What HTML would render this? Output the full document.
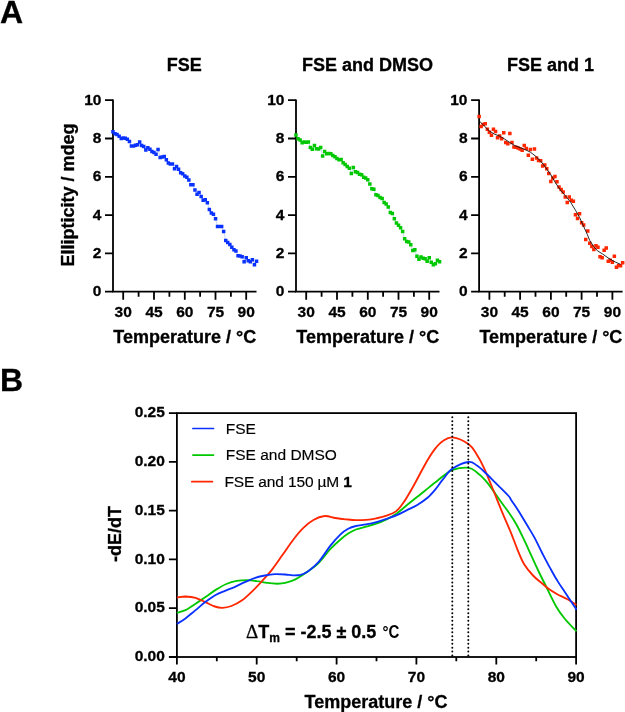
<!DOCTYPE html>
<html><head><meta charset="utf-8"><title>Figure</title>
<style>
html,body{margin:0;padding:0;background:#fff;}
body{width:625px;height:712px;overflow:hidden;}
svg{display:block;will-change:transform;}
text{font-family:"Liberation Sans",sans-serif;fill:#000;}
.b{font-weight:bold;stroke:#000;stroke-width:0.3px;}
.ax{stroke:#000;stroke-width:1.8;fill:none;stroke-linecap:butt;}
.tl{font-size:15.5px;font-weight:bold;stroke:#000;stroke-width:0.3px;}
.lab{font-size:18px;font-weight:bold;stroke:#000;stroke-width:0.3px;}
</style></head><body>
<svg width="625" height="712" viewBox="0 0 625 712">
<rect width="625" height="712" fill="#fff"/>
<text x="0" y="23" class="b" style="font-size:32px">A</text>
<text x="0" y="390.8" class="b" style="font-size:32px">B</text>

<g>
<text x="184.3" y="71.4" text-anchor="middle" class="lab">FSE</text>
<path d="M113.0,131.7 L115.0,133.7 L117.1,134.6 L119.2,136.3 L121.2,138.4 L123.2,138.1 L125.3,138.3 L127.3,139.3 L129.4,141.6 L131.4,146.1 L133.5,146.1 L135.6,145.2 L137.6,144.8 L139.7,141.9 L141.7,145.5 L143.8,146.5 L145.8,150.0 L147.8,147.8 L149.9,149.3 L151.9,151.6 L154.0,152.5 L156.1,154.2 L158.1,149.6 L160.2,157.6 L162.2,157.0 L164.2,156.4 L166.3,159.8 L168.3,163.1 L170.4,164.0 L172.4,164.0 L174.5,168.8 L176.6,166.6 L178.6,169.2 L180.6,172.7 L182.7,173.7 L184.8,175.9 L186.8,177.2 L188.8,180.1 L190.9,184.8 L192.9,184.8 L195.0,190.0 L197.1,194.2 L199.1,192.5 L201.1,196.4 L203.2,200.2 L205.2,199.8 L207.3,202.8 L209.3,209.5 L211.4,213.0 L213.4,214.3 L215.5,218.8 L217.6,226.5 L219.6,226.5 L221.6,226.5 L223.7,231.6 L225.8,240.6 L227.8,242.5 L229.8,244.4 L231.9,247.3 L233.9,249.8 L236.0,251.1 L238.0,255.7 L240.1,256.0 L242.1,256.6 L244.2,261.7 L246.2,257.9 L248.3,260.8 L250.3,261.7 L252.4,259.8 L254.4,264.9 L256.5,261.1" stroke="#6a8fd8" stroke-width="0.5" fill="none" opacity="0.7"/>
<path class="ax" d="M113.0,99.4 V292.5 M112.1,291.7 H256.5"/>
<text x="101.4" y="296.1" text-anchor="end" class="tl">0</text>
<text x="101.4" y="257.8" text-anchor="end" class="tl">2</text>
<text x="101.4" y="219.5" text-anchor="end" class="tl">4</text>
<text x="101.4" y="181.2" text-anchor="end" class="tl">6</text>
<text x="101.4" y="142.9" text-anchor="end" class="tl">8</text>
<text x="101.4" y="104.6" text-anchor="end" class="tl">10</text>
<text x="123.2" y="317.1" text-anchor="middle" class="tl">30</text>
<text x="154.0" y="317.1" text-anchor="middle" class="tl">45</text>
<text x="184.8" y="317.1" text-anchor="middle" class="tl">60</text>
<text x="215.5" y="317.1" text-anchor="middle" class="tl">75</text>
<text x="246.2" y="317.1" text-anchor="middle" class="tl">90</text>
<path class="ax" d="M105.0,291.7 H113.0 M105.0,253.4 H113.0 M105.0,215.1 H113.0 M105.0,176.8 H113.0 M105.0,138.5 H113.0 M105.0,100.2 H113.0 M123.2,291.7 V299.7 M154.0,291.7 V299.7 M184.8,291.7 V299.7 M215.5,291.7 V299.7 M246.2,291.7 V299.7 M138.6,291.7 V296.7 M169.4,291.7 V296.7 M200.1,291.7 V296.7 M230.9,291.7 V296.7 "/>
<text x="184.8" y="342.6" text-anchor="middle" class="lab">Temperature / °C</text>
<path d="M111.2,129.9h3.5v3.5h-3.5zM113.3,131.9h3.5v3.5h-3.5zM115.3,132.8h3.5v3.5h-3.5zM117.4,134.6h3.5v3.5h-3.5zM119.5,136.7h3.5v3.5h-3.5zM121.5,136.3h3.5v3.5h-3.5zM123.5,136.6h3.5v3.5h-3.5zM125.6,137.6h3.5v3.5h-3.5zM127.7,139.8h3.5v3.5h-3.5zM129.7,144.3h3.5v3.5h-3.5zM131.8,144.3h3.5v3.5h-3.5zM133.8,143.4h3.5v3.5h-3.5zM135.8,143.1h3.5v3.5h-3.5zM137.9,140.2h3.5v3.5h-3.5zM139.9,143.8h3.5v3.5h-3.5zM142.0,144.8h3.5v3.5h-3.5zM144.1,148.2h3.5v3.5h-3.5zM146.1,146.1h3.5v3.5h-3.5zM148.2,147.6h3.5v3.5h-3.5zM150.2,149.8h3.5v3.5h-3.5zM152.2,150.8h3.5v3.5h-3.5zM154.3,152.4h3.5v3.5h-3.5zM156.3,147.8h3.5v3.5h-3.5zM158.4,155.8h3.5v3.5h-3.5zM160.4,155.2h3.5v3.5h-3.5zM162.5,154.7h3.5v3.5h-3.5zM164.6,158.1h3.5v3.5h-3.5zM166.6,161.3h3.5v3.5h-3.5zM168.6,162.2h3.5v3.5h-3.5zM170.7,162.2h3.5v3.5h-3.5zM172.8,167.1h3.5v3.5h-3.5zM174.8,164.8h3.5v3.5h-3.5zM176.8,167.4h3.5v3.5h-3.5zM178.9,170.9h3.5v3.5h-3.5zM180.9,171.9h3.5v3.5h-3.5zM183.0,174.2h3.5v3.5h-3.5zM185.1,175.4h3.5v3.5h-3.5zM187.1,178.3h3.5v3.5h-3.5zM189.1,183.1h3.5v3.5h-3.5zM191.2,183.1h3.5v3.5h-3.5zM193.2,188.2h3.5v3.5h-3.5zM195.3,192.4h3.5v3.5h-3.5zM197.3,190.8h3.5v3.5h-3.5zM199.4,194.7h3.5v3.5h-3.5zM201.4,198.4h3.5v3.5h-3.5zM203.5,198.1h3.5v3.5h-3.5zM205.6,201.1h3.5v3.5h-3.5zM207.6,207.8h3.5v3.5h-3.5zM209.6,211.2h3.5v3.5h-3.5zM211.7,212.6h3.5v3.5h-3.5zM213.8,217.1h3.5v3.5h-3.5zM215.8,224.8h3.5v3.5h-3.5zM217.8,224.8h3.5v3.5h-3.5zM219.9,224.8h3.5v3.5h-3.5zM221.9,229.8h3.5v3.5h-3.5zM224.0,238.8h3.5v3.5h-3.5zM226.0,240.8h3.5v3.5h-3.5zM228.1,242.7h3.5v3.5h-3.5zM230.1,245.6h3.5v3.5h-3.5zM232.2,248.1h3.5v3.5h-3.5zM234.2,249.3h3.5v3.5h-3.5zM236.3,253.9h3.5v3.5h-3.5zM238.3,254.2h3.5v3.5h-3.5zM240.4,254.9h3.5v3.5h-3.5zM242.4,259.9h3.5v3.5h-3.5zM244.5,256.1h3.5v3.5h-3.5zM246.5,259.1h3.5v3.5h-3.5zM248.6,259.9h3.5v3.5h-3.5zM250.6,258.1h3.5v3.5h-3.5zM252.7,263.1h3.5v3.5h-3.5zM254.8,259.4h3.5v3.5h-3.5z" fill="#0a32ff"/>
</g>
<g>
<text x="367.4" y="71.4" text-anchor="middle" class="lab">FSE and DMSO</text>
<path d="M296.0,135.0 L298.1,138.8 L300.1,140.1 L302.1,142.7 L304.2,141.9 L306.2,142.3 L308.3,141.9 L310.4,147.4 L312.4,149.3 L314.4,145.5 L316.5,148.7 L318.6,149.1 L320.6,147.4 L322.6,156.0 L324.7,151.6 L326.8,153.8 L328.8,153.4 L330.9,153.8 L332.9,155.5 L334.9,156.7 L337.0,158.5 L339.1,159.8 L341.1,159.6 L343.1,162.8 L345.2,164.4 L347.2,166.6 L349.3,168.3 L351.4,173.4 L353.4,167.5 L355.4,171.7 L357.5,172.6 L359.6,174.3 L361.6,174.7 L363.6,177.2 L365.7,178.1 L367.8,179.7 L369.8,183.9 L371.9,188.7 L373.9,189.3 L375.9,194.7 L378.0,195.5 L380.1,197.6 L382.1,198.5 L384.1,202.4 L386.2,204.0 L388.2,207.0 L390.3,212.4 L392.4,213.6 L394.4,218.8 L396.4,222.9 L398.5,225.2 L400.6,227.8 L402.6,231.6 L404.6,238.7 L406.7,241.6 L408.8,242.1 L410.8,244.7 L412.9,250.6 L414.9,249.8 L416.9,256.2 L419.0,259.2 L421.0,257.0 L423.1,258.3 L425.1,258.8 L427.2,261.1 L429.2,257.9 L431.3,262.1 L433.4,264.7 L435.4,263.6 L437.4,260.4 L439.5,261.7" stroke="#6a8fd8" stroke-width="0.5" fill="none" opacity="0.7"/>
<path class="ax" d="M296.0,99.4 V292.5 M295.1,291.7 H439.5"/>
<text x="284.4" y="296.1" text-anchor="end" class="tl">0</text>
<text x="284.4" y="257.8" text-anchor="end" class="tl">2</text>
<text x="284.4" y="219.5" text-anchor="end" class="tl">4</text>
<text x="284.4" y="181.2" text-anchor="end" class="tl">6</text>
<text x="284.4" y="142.9" text-anchor="end" class="tl">8</text>
<text x="284.4" y="104.6" text-anchor="end" class="tl">10</text>
<text x="306.2" y="317.1" text-anchor="middle" class="tl">30</text>
<text x="337.0" y="317.1" text-anchor="middle" class="tl">45</text>
<text x="367.8" y="317.1" text-anchor="middle" class="tl">60</text>
<text x="398.5" y="317.1" text-anchor="middle" class="tl">75</text>
<text x="429.2" y="317.1" text-anchor="middle" class="tl">90</text>
<path class="ax" d="M288.0,291.7 H296.0 M288.0,253.4 H296.0 M288.0,215.1 H296.0 M288.0,176.8 H296.0 M288.0,138.5 H296.0 M288.0,100.2 H296.0 M306.2,291.7 V299.7 M337.0,291.7 V299.7 M367.8,291.7 V299.7 M398.5,291.7 V299.7 M429.2,291.7 V299.7 M321.6,291.7 V296.7 M352.4,291.7 V296.7 M383.1,291.7 V296.7 M413.9,291.7 V296.7 "/>
<text x="367.8" y="342.6" text-anchor="middle" class="lab">Temperature / °C</text>
<path d="M294.2,133.2h3.5v3.5h-3.5zM296.3,137.1h3.5v3.5h-3.5zM298.4,138.3h3.5v3.5h-3.5zM300.4,140.9h3.5v3.5h-3.5zM302.4,140.2h3.5v3.5h-3.5zM304.5,140.6h3.5v3.5h-3.5zM306.6,140.2h3.5v3.5h-3.5zM308.6,145.7h3.5v3.5h-3.5zM310.6,147.6h3.5v3.5h-3.5zM312.7,143.8h3.5v3.5h-3.5zM314.8,146.9h3.5v3.5h-3.5zM316.8,147.3h3.5v3.5h-3.5zM318.9,145.7h3.5v3.5h-3.5zM320.9,154.2h3.5v3.5h-3.5zM322.9,149.8h3.5v3.5h-3.5zM325.0,152.1h3.5v3.5h-3.5zM327.1,151.7h3.5v3.5h-3.5zM329.1,152.1h3.5v3.5h-3.5zM331.1,153.8h3.5v3.5h-3.5zM333.2,154.9h3.5v3.5h-3.5zM335.2,156.8h3.5v3.5h-3.5zM337.3,158.1h3.5v3.5h-3.5zM339.4,157.8h3.5v3.5h-3.5zM341.4,161.1h3.5v3.5h-3.5zM343.4,162.7h3.5v3.5h-3.5zM345.5,164.8h3.5v3.5h-3.5zM347.6,166.6h3.5v3.5h-3.5zM349.6,171.7h3.5v3.5h-3.5zM351.6,165.8h3.5v3.5h-3.5zM353.7,169.9h3.5v3.5h-3.5zM355.8,170.8h3.5v3.5h-3.5zM357.8,172.6h3.5v3.5h-3.5zM359.9,172.9h3.5v3.5h-3.5zM361.9,175.4h3.5v3.5h-3.5zM363.9,176.3h3.5v3.5h-3.5zM366.0,177.9h3.5v3.5h-3.5zM368.1,182.2h3.5v3.5h-3.5zM370.1,186.9h3.5v3.5h-3.5zM372.1,187.6h3.5v3.5h-3.5zM374.2,192.9h3.5v3.5h-3.5zM376.2,193.8h3.5v3.5h-3.5zM378.3,195.8h3.5v3.5h-3.5zM380.4,196.8h3.5v3.5h-3.5zM382.4,200.7h3.5v3.5h-3.5zM384.4,202.2h3.5v3.5h-3.5zM386.5,205.2h3.5v3.5h-3.5zM388.6,210.7h3.5v3.5h-3.5zM390.6,211.8h3.5v3.5h-3.5zM392.6,217.1h3.5v3.5h-3.5zM394.7,221.2h3.5v3.5h-3.5zM396.8,223.4h3.5v3.5h-3.5zM398.8,226.1h3.5v3.5h-3.5zM400.9,229.8h3.5v3.5h-3.5zM402.9,236.9h3.5v3.5h-3.5zM404.9,239.8h3.5v3.5h-3.5zM407.0,240.3h3.5v3.5h-3.5zM409.0,242.9h3.5v3.5h-3.5zM411.1,248.8h3.5v3.5h-3.5zM413.1,248.1h3.5v3.5h-3.5zM415.2,254.4h3.5v3.5h-3.5zM417.2,257.4h3.5v3.5h-3.5zM419.3,255.2h3.5v3.5h-3.5zM421.4,256.6h3.5v3.5h-3.5zM423.4,257.1h3.5v3.5h-3.5zM425.4,259.4h3.5v3.5h-3.5zM427.5,256.1h3.5v3.5h-3.5zM429.5,260.4h3.5v3.5h-3.5zM431.6,262.9h3.5v3.5h-3.5zM433.6,261.9h3.5v3.5h-3.5zM435.7,258.6h3.5v3.5h-3.5zM437.8,259.9h3.5v3.5h-3.5z" fill="#00c800"/>
</g>
<g>
<text x="550.5" y="71.4" text-anchor="middle" class="lab">FSE and 1</text>
<path class="ax" d="M479.1,99.4 V292.5 M478.2,291.7 H622.6"/>
<text x="467.5" y="296.1" text-anchor="end" class="tl">0</text>
<text x="467.5" y="257.8" text-anchor="end" class="tl">2</text>
<text x="467.5" y="219.5" text-anchor="end" class="tl">4</text>
<text x="467.5" y="181.2" text-anchor="end" class="tl">6</text>
<text x="467.5" y="142.9" text-anchor="end" class="tl">8</text>
<text x="467.5" y="104.6" text-anchor="end" class="tl">10</text>
<text x="489.4" y="317.1" text-anchor="middle" class="tl">30</text>
<text x="520.1" y="317.1" text-anchor="middle" class="tl">45</text>
<text x="550.9" y="317.1" text-anchor="middle" class="tl">60</text>
<text x="581.6" y="317.1" text-anchor="middle" class="tl">75</text>
<text x="612.4" y="317.1" text-anchor="middle" class="tl">90</text>
<path class="ax" d="M471.1,291.7 H479.1 M471.1,253.4 H479.1 M471.1,215.1 H479.1 M471.1,176.8 H479.1 M471.1,138.5 H479.1 M471.1,100.2 H479.1 M489.4,291.7 V299.7 M520.1,291.7 V299.7 M550.9,291.7 V299.7 M581.6,291.7 V299.7 M612.4,291.7 V299.7 M504.7,291.7 V296.7 M535.5,291.7 V296.7 M566.2,291.7 V296.7 M597.0,291.7 V296.7 "/>
<text x="550.9" y="342.6" text-anchor="middle" class="lab">Temperature / °C</text>
<path d="M477.4,114.8h3.5v3.5h-3.5zM479.4,124.8h3.5v3.5h-3.5zM481.5,122.8h3.5v3.5h-3.5zM483.5,122.0h3.5v3.5h-3.5zM485.6,127.6h3.5v3.5h-3.5zM487.6,130.6h3.5v3.5h-3.5zM489.7,133.4h3.5v3.5h-3.5zM491.7,127.6h3.5v3.5h-3.5zM493.8,129.8h3.5v3.5h-3.5zM495.8,136.1h3.5v3.5h-3.5zM497.9,134.3h3.5v3.5h-3.5zM499.9,136.9h3.5v3.5h-3.5zM502.0,130.9h3.5v3.5h-3.5zM504.0,140.8h3.5v3.5h-3.5zM506.1,142.1h3.5v3.5h-3.5zM508.1,131.8h3.5v3.5h-3.5zM510.2,140.8h3.5v3.5h-3.5zM512.2,145.2h3.5v3.5h-3.5zM514.2,145.6h3.5v3.5h-3.5zM516.3,146.2h3.5v3.5h-3.5zM518.4,147.2h3.5v3.5h-3.5zM520.4,148.4h3.5v3.5h-3.5zM522.5,143.8h3.5v3.5h-3.5zM524.5,146.8h3.5v3.5h-3.5zM526.6,153.6h3.5v3.5h-3.5zM528.6,147.8h3.5v3.5h-3.5zM530.6,157.4h3.5v3.5h-3.5zM532.7,147.2h3.5v3.5h-3.5zM534.8,156.2h3.5v3.5h-3.5zM536.8,158.7h3.5v3.5h-3.5zM538.9,159.1h3.5v3.5h-3.5zM540.9,164.2h3.5v3.5h-3.5zM543.0,163.3h3.5v3.5h-3.5zM545.0,166.9h3.5v3.5h-3.5zM547.0,171.7h3.5v3.5h-3.5zM549.1,179.8h3.5v3.5h-3.5zM551.1,176.2h3.5v3.5h-3.5zM553.2,174.7h3.5v3.5h-3.5zM555.2,180.1h3.5v3.5h-3.5zM557.3,185.2h3.5v3.5h-3.5zM559.4,187.7h3.5v3.5h-3.5zM561.4,190.2h3.5v3.5h-3.5zM563.5,195.2h3.5v3.5h-3.5zM565.5,200.8h3.5v3.5h-3.5zM567.5,195.2h3.5v3.5h-3.5zM569.6,198.6h3.5v3.5h-3.5zM571.6,199.4h3.5v3.5h-3.5zM573.7,213.1h3.5v3.5h-3.5zM575.8,216.8h3.5v3.5h-3.5zM577.8,212.1h3.5v3.5h-3.5zM579.9,220.9h3.5v3.5h-3.5zM581.9,223.2h3.5v3.5h-3.5zM584.0,237.8h3.5v3.5h-3.5zM586.0,229.2h3.5v3.5h-3.5zM588.0,241.4h3.5v3.5h-3.5zM590.1,244.7h3.5v3.5h-3.5zM592.1,247.8h3.5v3.5h-3.5zM594.2,243.9h3.5v3.5h-3.5zM596.2,245.6h3.5v3.5h-3.5zM598.3,254.9h3.5v3.5h-3.5zM600.4,256.1h3.5v3.5h-3.5zM602.4,248.4h3.5v3.5h-3.5zM604.5,246.2h3.5v3.5h-3.5zM606.5,259.6h3.5v3.5h-3.5zM608.5,258.6h3.5v3.5h-3.5zM610.6,260.4h3.5v3.5h-3.5zM612.6,254.4h3.5v3.5h-3.5zM614.7,265.4h3.5v3.5h-3.5zM616.8,263.9h3.5v3.5h-3.5zM618.8,263.9h3.5v3.5h-3.5zM620.9,260.9h3.5v3.5h-3.5z" fill="#ff2600"/>
<path d="M479.1,120.8 L484.2,125.9 L489.4,131.0 L494.5,134.2 L499.6,136.1 L504.7,139.1 L509.8,142.5 L515.0,145.7 L520.1,147.6 L525.2,149.6 L530.3,152.1 L535.4,156.0 L540.6,161.1 L545.7,167.5 L550.8,174.7 L555.2,182.4 L560.4,190.1 L565.5,195.8 L570.6,202.2 L575.7,210.6 L579.6,217.5 L583.4,225.9 L587.2,234.2 L589.8,240.6 L593.6,246.4 L597.5,250.8 L602.6,254.0 L609.0,258.5 L615.4,262.1 L620.5,264.3" stroke="#111" stroke-width="0.9" fill="none" stroke-linejoin="round"/>
</g>
<text transform="translate(74,195) rotate(-90)" text-anchor="middle" class="lab">Ellipticity / mdeg</text>
<g>
<rect class="ax" x="176.9" y="413.1" width="399.2" height="243.9"/>
<path d="M176.9,612.9 C178.3,612.4 182.2,611.6 185.4,610.1 C188.5,608.5 192.2,605.9 195.6,603.7 C199.0,601.5 202.4,599.1 205.8,596.8 C209.3,594.4 212.7,591.7 216.1,589.6 C219.5,587.5 222.9,585.4 226.3,584.0 C229.7,582.5 233.1,581.5 236.6,580.9 C240.0,580.3 243.4,580.1 246.8,580.1 C250.2,580.2 253.6,580.7 257.0,581.2 C260.5,581.6 263.9,582.5 267.3,582.9 C270.7,583.4 274.5,583.7 277.5,583.7 C280.5,583.7 282.2,583.7 285.2,582.9 C288.2,582.2 292.0,581.0 295.4,579.4 C298.9,577.7 301.8,575.6 305.7,573.0 C309.5,570.3 314.4,567.2 318.5,563.2 C322.6,559.3 326.6,553.2 330.2,549.2 C333.9,545.3 337.5,542.1 340.5,539.5 C343.5,536.9 345.6,535.3 348.2,533.6 C350.7,532.0 352.9,530.7 355.8,529.5 C358.8,528.4 362.7,527.7 366.1,526.7 C369.5,525.7 372.9,524.9 376.3,523.6 C379.7,522.4 383.1,521.0 386.6,519.3 C390.0,517.6 393.4,515.8 396.8,513.4 C400.2,511.0 403.6,507.7 407.0,505.0 C410.5,502.2 413.9,499.5 417.3,496.8 C420.7,494.0 424.5,491.0 427.5,488.6 C430.5,486.2 432.6,484.5 435.2,482.4 C437.8,480.4 440.0,478.4 442.9,476.3 C445.8,474.2 448.3,471.3 452.6,469.9 C456.9,468.5 464.4,467.5 468.4,467.8 C472.5,468.2 473.8,470.1 476.6,472.2 C479.5,474.3 482.8,477.5 485.6,480.6 C488.4,483.8 490.9,487.7 493.3,490.9 C495.6,494.1 497.1,496.4 499.7,500.0 C502.2,503.6 505.9,508.2 508.6,512.3 C511.4,516.3 513.8,519.8 516.3,524.3 C518.9,528.9 521.4,534.3 524.0,539.7 C526.6,545.0 529.1,550.8 531.7,556.3 C534.2,561.9 536.8,567.6 539.4,573.0 C541.9,578.3 544.3,582.8 547.0,588.3 C549.8,593.9 553.0,601.1 556.0,606.2 C559.0,611.4 561.5,614.9 565.0,619.0 C568.4,623.2 574.6,629.3 576.5,631.3" stroke="#00c800" stroke-width="1.85" fill="none" stroke-linejoin="round"/>
<path d="M176.9,597.5 C178.3,597.4 182.2,596.5 185.4,596.5 C188.5,596.6 192.2,596.8 195.6,597.8 C199.0,598.8 202.6,600.9 205.8,602.4 C209.0,603.9 212.0,605.6 214.8,606.5 C217.6,607.4 219.7,607.9 222.5,607.8 C225.3,607.7 228.2,607.2 231.4,606.0 C234.6,604.8 238.3,603.0 241.7,600.6 C245.1,598.2 248.5,594.9 251.9,591.6 C255.3,588.4 258.7,584.7 262.2,580.9 C265.6,577.1 269.0,573.5 272.4,569.1 C275.8,564.8 279.2,559.6 282.6,554.8 C286.1,550.0 289.5,544.6 292.9,540.2 C296.3,535.8 299.7,531.5 303.1,528.2 C306.5,524.8 309.8,522.0 313.4,520.0 C316.9,517.9 320.9,516.3 324.6,516.0 C328.3,515.6 331.9,517.5 335.4,518.0 C338.9,518.6 342.2,519.0 345.6,519.3 C349.0,519.6 352.4,520.0 355.8,520.1 C359.3,520.1 362.7,520.1 366.1,519.8 C369.5,519.5 372.9,519.0 376.3,518.3 C379.7,517.6 383.2,516.9 386.6,515.7 C389.9,514.5 393.3,513.5 396.3,511.1 C399.3,508.7 401.8,504.9 404.5,501.1 C407.1,497.3 409.6,492.8 412.2,488.3 C414.7,483.8 417.3,478.9 419.8,474.2 C422.4,469.5 425.0,464.4 427.5,460.2 C430.1,455.9 432.6,451.8 435.2,448.6 C437.8,445.4 440.0,442.8 442.9,441.0 C445.8,439.1 448.3,436.9 452.6,437.4 C456.9,437.9 464.4,441.2 468.4,444.0 C472.5,446.8 474.0,450.2 476.6,454.3 C479.3,458.4 481.8,463.1 484.3,468.6 C486.9,474.1 489.4,480.8 492.0,487.0 C494.6,493.3 497.8,501.5 499.7,506.2 C501.6,511.0 501.6,510.9 503.5,515.4 C505.4,519.9 508.9,527.5 511.2,533.3 C513.5,539.0 515.5,544.8 517.6,549.9 C519.7,555.0 521.4,559.7 524.0,564.0 C526.6,568.3 530.0,572.3 533.0,575.5 C535.9,578.7 539.1,580.9 541.9,583.2 C544.7,585.5 547.0,587.8 549.6,589.6 C552.2,591.4 554.3,592.6 557.3,594.2 C560.3,595.8 564.3,597.5 567.5,599.3 C570.7,601.1 575.0,604.0 576.5,605.0" stroke="#ff2600" stroke-width="1.85" fill="none" stroke-linejoin="round"/>
<path d="M176.9,623.9 C178.3,623.0 182.2,620.8 185.4,618.5 C188.5,616.2 192.2,612.9 195.6,610.1 C199.0,607.3 202.4,604.2 205.8,601.6 C209.3,599.1 212.9,596.5 216.1,594.7 C219.3,592.9 222.1,592.1 225.0,590.9 C228.0,589.6 230.8,588.7 234.0,587.3 C237.2,585.9 240.8,584.0 244.2,582.4 C247.7,580.9 251.1,579.2 254.5,578.1 C257.9,576.9 261.3,576.2 264.7,575.5 C268.1,574.9 271.5,574.4 275.0,574.2 C278.4,574.1 282.2,574.3 285.2,574.5 C288.2,574.7 290.3,575.2 292.9,575.3 C295.4,575.3 298.0,575.4 300.6,574.8 C303.1,574.1 305.3,573.3 308.2,571.2 C311.2,569.1 314.8,566.4 318.5,562.2 C322.1,558.0 326.6,550.6 330.2,545.9 C333.9,541.3 337.5,537.3 340.5,534.4 C343.5,531.5 345.6,530.2 348.2,528.8 C350.7,527.4 352.9,526.7 355.8,526.0 C358.8,525.2 362.7,525.1 366.1,524.4 C369.5,523.8 372.9,523.1 376.3,522.1 C379.7,521.2 383.1,519.9 386.6,518.8 C390.0,517.6 393.4,516.7 396.8,515.2 C400.2,513.7 403.6,511.8 407.0,510.1 C410.5,508.4 413.9,507.0 417.3,505.0 C420.7,502.9 424.5,500.4 427.5,497.8 C430.5,495.2 432.6,492.7 435.2,489.6 C437.8,486.5 440.0,482.9 442.9,479.4 C445.8,475.9 448.3,471.5 452.6,468.6 C456.9,465.7 464.4,462.5 468.4,462.0 C472.5,461.4 473.8,463.4 476.6,465.3 C479.5,467.1 482.4,470.0 485.6,473.0 C488.8,475.9 492.0,479.4 495.8,483.2 C499.7,487.0 506.1,493.2 508.6,496.0 C511.2,498.8 509.5,497.4 511.2,500.0 C512.9,502.6 516.3,507.5 518.9,511.5 C521.4,515.6 524.0,520.1 526.6,524.3 C529.1,528.6 531.7,532.4 534.2,537.1 C536.8,541.8 539.4,547.5 541.9,552.5 C544.5,557.5 547.0,562.4 549.6,567.1 C552.2,571.8 554.7,576.5 557.3,580.6 C559.8,584.8 562.4,588.3 565.0,592.2 C567.5,596.0 570.7,600.8 572.6,603.7 C574.6,606.6 575.8,608.6 576.5,609.6" stroke="#0a32ff" stroke-width="1.85" fill="none" stroke-linejoin="round"/>
<path d="M452.3,417.3 V656.0" stroke="#000" stroke-width="2.0" stroke-linecap="round" stroke-dasharray="0 3.84" fill="none"/>
<path d="M468.3,417.3 V656.0" stroke="#000" stroke-width="2.0" stroke-linecap="round" stroke-dasharray="0 3.84" fill="none"/>
<text x="164.8" y="661.1" text-anchor="end" class="tl">0.00</text>
<text x="164.8" y="612.3" text-anchor="end" class="tl">0.05</text>
<text x="164.8" y="563.5" text-anchor="end" class="tl">0.10</text>
<text x="164.8" y="514.8" text-anchor="end" class="tl">0.15</text>
<text x="164.8" y="466.0" text-anchor="end" class="tl">0.20</text>
<text x="164.8" y="417.2" text-anchor="end" class="tl">0.25</text>
<text x="176.9" y="681.9" text-anchor="middle" class="tl">40</text>
<text x="256.7" y="681.9" text-anchor="middle" class="tl">50</text>
<text x="336.6" y="681.9" text-anchor="middle" class="tl">60</text>
<text x="416.4" y="681.9" text-anchor="middle" class="tl">70</text>
<text x="496.3" y="681.9" text-anchor="middle" class="tl">80</text>
<text x="576.1" y="681.9" text-anchor="middle" class="tl">90</text>
<path class="ax" d="M168.9,657.0 H176.9 M168.9,608.2 H176.9 M168.9,559.4 H176.9 M168.9,510.7 H176.9 M168.9,461.9 H176.9 M168.9,413.1 H176.9 M176.9,657.0 V664.5 M256.7,657.0 V664.5 M336.6,657.0 V664.5 M416.4,657.0 V664.5 M496.3,657.0 V664.5 M576.1,657.0 V664.5 M216.8,657.0 V661.3 M296.7,657.0 V661.3 M376.5,657.0 V661.3 M456.3,657.0 V661.3 M536.2,657.0 V661.3 "/>
<text x="376" y="707.8" text-anchor="middle" class="lab">Temperature / °C</text>
<text transform="translate(121,534) rotate(-90)" text-anchor="middle" class="lab">-dE/dT</text>
<path d="M192.9,428.5 h20.6" stroke="#0a32ff" stroke-width="1.7" stroke-linecap="round"/>
<text x="225.8" y="433.5" style="font-size:15.5px;stroke:#000;stroke-width:0.15px">FSE</text>
<path d="M192.9,455.1 h20.6" stroke="#00c800" stroke-width="1.7" stroke-linecap="round"/>
<text x="225.8" y="460.1" style="font-size:15.5px;stroke:#000;stroke-width:0.15px">FSE and DMSO</text>
<path d="M191.8,481.7 h20.6" stroke="#ff2600" stroke-width="1.7" stroke-linecap="round"/>
<text x="224.4" y="486.7" textLength="127.5" lengthAdjust="spacing" style="font-size:15.5px;stroke:#000;stroke-width:0.15px">FSE and 150 µM <tspan class="b">1</tspan></text>
<text x="246" y="638.4" class="lab"><tspan style="font-family:'Liberation Serif',serif;font-weight:normal;font-size:19px">Δ</tspan>T<tspan dy="4" style="font-size:12px">m</tspan><tspan dy="-4"> = -2.5 ± 0.5 </tspan></text>
<text transform="translate(382.6,638.4) scale(0.86,1)" style="font-size:17.5px;font-weight:bold">°C</text>
</g>
</svg></body></html>
